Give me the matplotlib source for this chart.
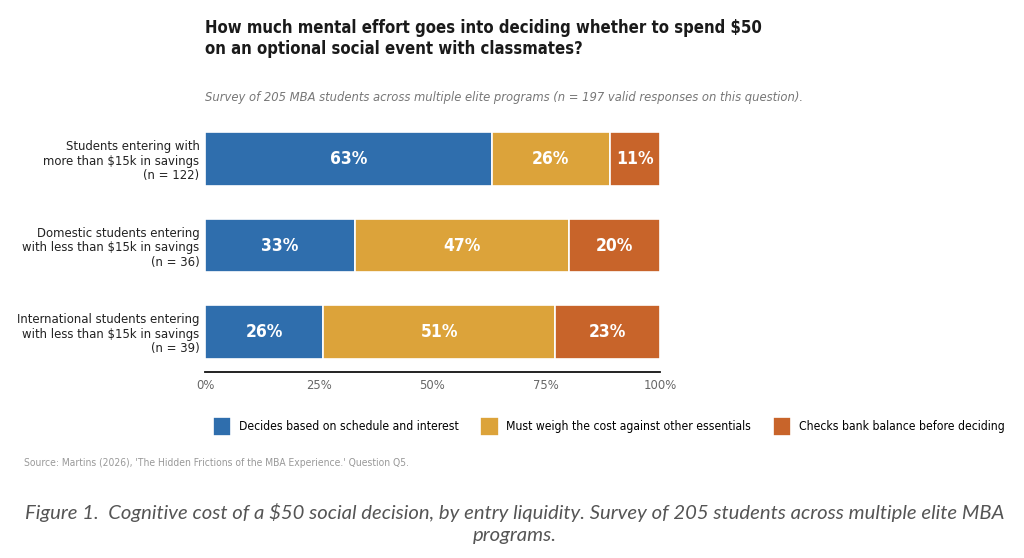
import matplotlib
matplotlib.use("Agg")
import matplotlib.pyplot as plt
from matplotlib.font_manager import FontProperties
import numpy as np

groups = ["Students entering with\nmore than $15k in savings\n(n = 122)",
          "Domestic students entering\nwith less than $15k in savings\n(n = 36)",
          "International students entering\nwith less than $15k in savings\n(n = 39)"]
series_names = ["Decides based on schedule and interest",
                "Must weigh the cost against other essentials",
                "Checks bank balance before deciding"]
schedule = [63, 33, 26]
weigh_cost = [26, 47, 51]
bank_balance = [11, 20, 23]
x_ticks = [0, 25, 50, 75, 100]
x_tick_labels = ["0%", "25%", "50%", "75%", "100%"]

colors = ['#2f6ead', '#dca33a', '#c8642a']
plt.rcParams['font.family'] = 'DejaVu Sans'
COND = 'condensed'

fig = plt.figure(figsize=(10.24, 5.58), dpi=100)
ax = fig.add_axes([0.2002, 0.3333, 0.4443, 0.4534])

y = np.arange(len(groups))
left = np.zeros(len(groups))
for vals, col, name in zip([schedule, weigh_cost, bank_balance], colors, series_names):
    vals = np.array(vals, dtype=float)
    ax.barh(y, vals, left=left, height=0.62, color=col, edgecolor='white',
            linewidth=1.2, label=name)
    for yi, l, v in zip(y, left, vals):
        ax.text(l + v / 2, yi, f"{int(v)}%", ha='center', va='center',
                color='white', fontsize=12.5, fontweight='bold', fontstretch=COND)
    left += vals

ax.set_xlim(0, 100)
ax.set_ylim(2.46, -0.46)
ax.set_yticks(y)
ax.set_yticklabels(groups, fontsize=9.4, fontstretch=COND, color='#222222',
                   linespacing=1.15)
ax.set_xticks(x_ticks)
ax.set_xticklabels(x_tick_labels, fontsize=9.3, fontstretch=COND, color='#666666')
ax.tick_params(axis='y', length=0, pad=4)
ax.tick_params(axis='x', length=0, pad=5)
for s in ['top', 'right', 'left']:
    ax.spines[s].set_visible(False)
ax.spines['bottom'].set_linewidth(1.3)
ax.spines['bottom'].set_color('#111111')

fig.text(0.2002, 0.966, "How much mental effort goes into deciding whether to spend $50\non an optional social event with classmates?",
         fontsize=12, fontweight='bold', fontstretch=COND, color='#1a1a1a',
         va='top', ha='left', linespacing=1.2)
fig.text(0.2002, 0.826, "Survey of 205 MBA students across multiple elite programs (n = 197 valid responses on this question).",
         fontsize=9.3, style='italic', fontstretch=COND, color='#777777', va='center', ha='left')

leg_font = FontProperties(family='DejaVu Sans', stretch=COND, size=8.7)
handles, labels = ax.get_legend_handles_labels()
fig.legend(handles, labels, loc='center left', bbox_to_anchor=(0.208, 0.236), ncol=3,
           frameon=False, handlelength=1.5, handleheight=2.0, handletextpad=0.65,
           columnspacing=1.8, prop=leg_font, borderaxespad=0, borderpad=0)

fig.text(0.0234, 0.170, "Source: Martins (2026), 'The Hidden Frictions of the MBA Experience.' Question Q5.",
         fontsize=7.4, fontstretch=COND, color='#999999', va='center', ha='left')

fig.text(0.503, 0.062, "Figure 1.  Cognitive cost of a $50 social decision, by entry liquidity. Survey of 205 students across multiple elite MBA\nprograms.",
         fontsize=14.6, style='italic', family='Lato', color='#555555',
         va='center', ha='center', linespacing=1.4)

fig.savefig("out.png", dpi=100)
